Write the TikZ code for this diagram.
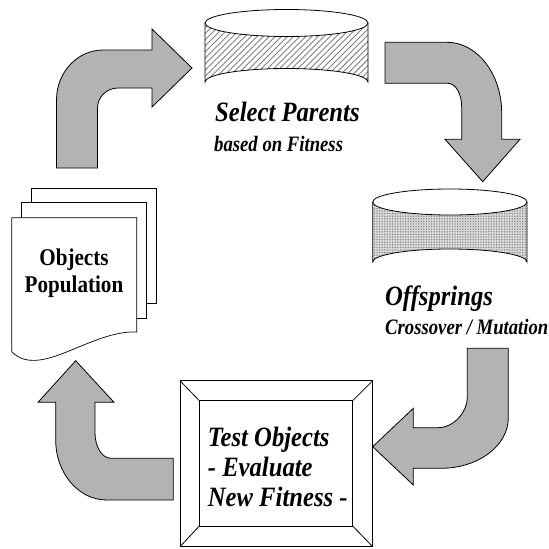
\documentclass[tikz,border=0pt]{standalone}
\usepackage{graphicx}
\usepackage{fontspec}
\setmainfont{Liberation Serif}[BoldFont={Liberation Serif Bold},ItalicFont={Liberation Serif Italic},BoldItalicFont={Liberation Serif Bold Italic}]
\usetikzlibrary{patterns,patterns.meta}
\definecolor{arrowgray}{RGB}{179,179,179}
\newcommand{\narrowA}[1]{\scalebox{0.88}[1]{#1}}
\newcommand{\narrowB}[1]{\scalebox{0.85}[1]{#1}}
\begin{document}
\begin{tikzpicture}[x=1pt,y=-1pt,
  blockarrow/.style={draw=black, line width=0.8pt, fill=arrowgray, line join=miter},
  outline/.style={draw=black, line width=0.8pt},
  bigtext/.style={inner sep=0pt, anchor=base west, font=\bfseries\itshape\fontsize{28}{30}\selectfont},
  smalltext/.style={inner sep=0pt, anchor=base west, font=\bfseries\itshape\fontsize{22}{24}\selectfont},
  doctext/.style={inner sep=0pt, anchor=base, font=\bfseries\fontsize{24}{26}\selectfont},
  page/.style={draw=black, line width=0.7pt, fill=white}]
\useasboundingbox (0,0) rectangle (549,549);

% ---- block arrows ----
\draw[blockarrow] (56.5,168) -- (56.5,100) .. controls (56.5,72.4) and (77.3,50) .. (103,50)
  -- (152,50) -- (152,29) -- (192,68) -- (152,107) -- (152,88) -- (118,88)
  .. controls (106.7,88) and (97.5,97) .. (97.5,108) -- (97.5,168) -- cycle;

\draw[blockarrow] (385,42.3) -- (447,42.3) .. controls (477.2,42.3) and (501.7,74) .. (501.7,113)
  -- (501.7,139.3) -- (520,139.3) -- (482.7,181.7) -- (445,139.3) -- (461.7,139.3) -- (461.7,107)
  .. controls (461.7,93.9) and (455.6,83.3) .. (448,83.3) -- (385,83.3) -- cycle;

\draw[blockarrow] (467.3,348.3) -- (508.3,348.3) -- (508.3,418)
  .. controls (508.3,445.8) and (478.1,468.3) .. (441,468.3)
  -- (413.3,468.3) -- (413.3,485) -- (372.7,446.7) -- (413.3,408.3) -- (413.3,427.7) -- (438,427.7)
  .. controls (454.2,427.7) and (467.3,411.3) .. (467.3,398) -- cycle;

\draw[blockarrow] (173.3,458.3) -- (111,458.3) .. controls (102.2,458.3) and (95,447) .. (95,433)
  -- (95,402.3) -- (114,402.3) -- (75.7,360.7) -- (38,402.3) -- (55.7,402.3) -- (55.7,440)
  .. controls (55.7,473.1) and (78.5,500) .. (106.7,500) -- (173.3,500) -- cycle;

% ---- top cylinder (Select Parents) ----
\path[fill=white] (205,23) -- (205,82) arc[start angle=180,end angle=360,x radius=81.5,y radius=13.5]
  -- (368,23) arc[start angle=0,end angle=180,x radius=81.5,y radius=13.5] -- cycle;
\path[pattern={Lines[angle=45,distance=4.3pt,line width=0.9pt]}, pattern color=black!50]
  (205,23) -- (205,82) arc[start angle=180,end angle=360,x radius=81.5,y radius=13.5]
  -- (368,23) arc[start angle=0,end angle=180,x radius=81.5,y radius=13.5] -- cycle;
\draw[outline] (286.5,23) ellipse[x radius=81.5,y radius=13.5];
\draw[outline] (205,23) -- (205,82) arc[start angle=180,end angle=360,x radius=81.5,y radius=13.5] -- (368,23);

% ---- lower cylinder (Offsprings) ----
\path[fill=black!15] (372.7,202) -- (372.7,262) arc[start angle=180,end angle=360,x radius=77.15,y radius=13]
  -- (527,202) arc[start angle=0,end angle=180,x radius=77.15,y radius=13] -- cycle;
\path[pattern={Dots[distance=2.6pt,radius=0.75pt]}, pattern color=black!50]
  (372.7,202) -- (372.7,262) arc[start angle=180,end angle=360,x radius=77.15,y radius=13]
  -- (527,202) arc[start angle=0,end angle=180,x radius=77.15,y radius=13] -- cycle;
\draw[outline] (449.85,202) ellipse[x radius=77.15,y radius=13];
\draw[outline] (372.7,202) -- (372.7,262) arc[start angle=180,end angle=360,x radius=77.15,y radius=13] -- (527,202);

% ---- document stack ----
\draw[page] (31.7,188.3) rectangle (156.7,303);
\draw[page] (21.7,202.7) rectangle (146.7,318);
\draw[page] (11.7,217.7) -- (136.7,217.7) -- (136.7,332)
  .. controls (90,330) and (40,380) .. (11.7,351.7) -- cycle;

% ---- test box ----
\draw[outline, fill=white] (180,380.7) rectangle (372.7,546.7);
\draw[outline] (199.3,400.7) rectangle (352.7,526);
\draw[outline] (180,380.7) -- (199.3,400.7);
\draw[outline] (372.7,380.7) -- (352.7,400.7);
\draw[outline] (180,546.7) -- (199.3,526);
\draw[outline] (372.7,546.7) -- (352.7,526);

% ---- texts ----
\node[bigtext] (sp) at (215,121.7) {\narrowA{Select Parents}};
\node[smalltext] (bf) at (214,151.7) {\narrowB{based on Fitness}};
\node[bigtext] (of) at (385,305) {\narrowA{Offsprings}};
\node[smalltext] (cm) at (385,334) {\narrowB{Crossover / Mutation}};
\node[bigtext] (t1) at (207.7,446.7) {\narrowA{Test Objects}};
\node[bigtext] (t2) at (207.7,476.7) {\narrowA{- Evaluate}};
\node[bigtext] (t3) at (207.7,506.7) {\narrowA{New Fitness -}};
\node[doctext] (o1) at (74,265) {\narrowA{Objects}};
\node[doctext] (o2) at (74,292) {\narrowA{Population}};
\end{tikzpicture}
\end{document}
